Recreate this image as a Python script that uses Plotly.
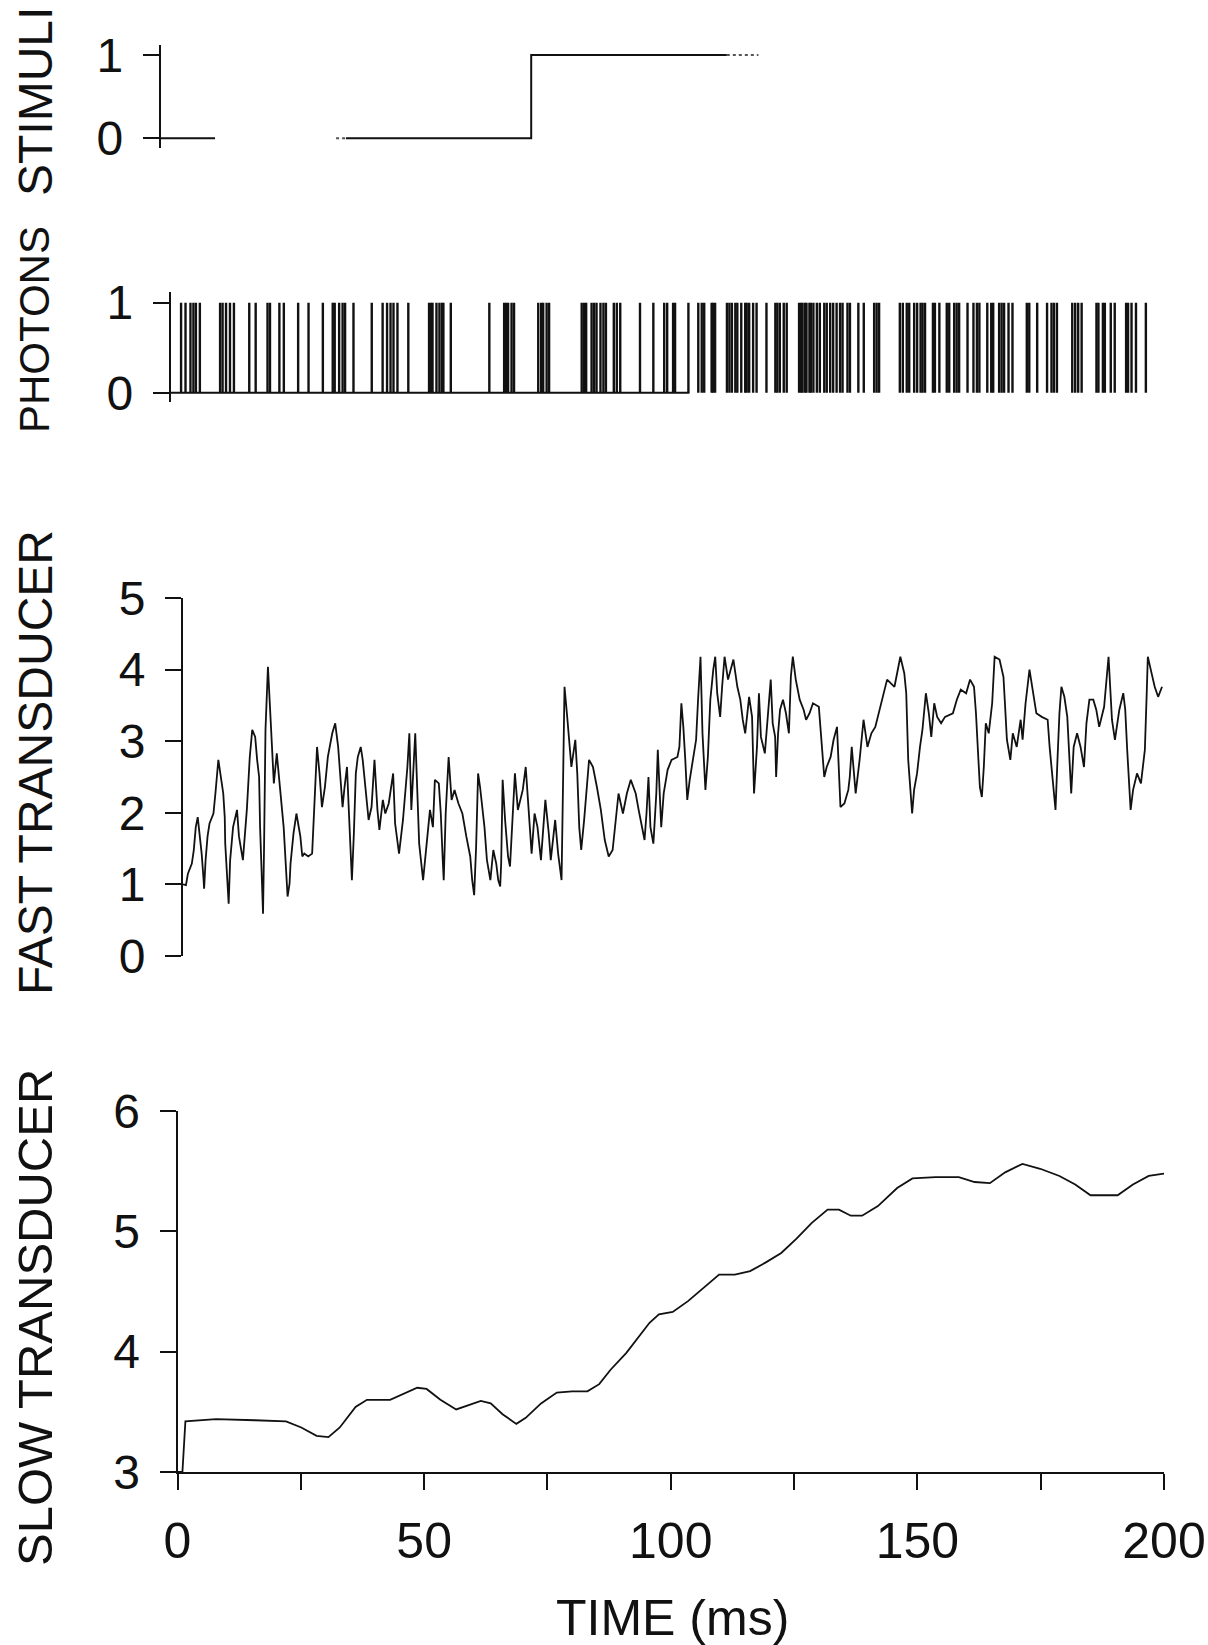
import plotly.graph_objects as go

# ---------------- data ----------------
time_ticks = [0, 25, 50, 75, 100, 125, 150, 175, 200]
time_labels = ["0", "", "50", "", "100", "", "150", "", "200"]
time_title = "TIME (ms)"

# stimulus: 0 until step at ~75 ms, then 1 (gaps are scan dropouts)
stim_t = [0, 11, None, 37.5, 75, 75, 114.6]
stim_v = [0, 0, None, 0, 0, 1, 1]
stim_tail_t = [114.6, 121]
stim_tail_v = [1, 1]
stim_pre_t = [35.5, 37.5]
stim_pre_v = [0, 0]

photon_times = [2.1, 3.0, 4.0, 4.6, 5.1, 5.9, 10.0, 10.5, 11.2, 12.0, 12.8, 15.9, 17.2, 19.6, 20.1,
                22.0, 22.9, 25.8, 27.9, 30.8, 32.8, 33.2, 34.1, 34.8, 35.3, 37.0, 40.7, 42.9, 43.8,
                44.5, 45.1, 45.9, 48.1, 52.3, 52.7, 53.0, 53.8, 54.4, 54.9, 55.2, 56.7, 64.5, 67.5,
                67.9, 68.3, 69.0, 69.5, 74.4, 75.0, 75.4, 76.1, 76.6, 83.2, 83.7, 84.1, 85.2, 85.7,
                86.2, 87.0, 87.6, 88.1, 89.7, 90.3, 91.0, 95.0, 97.7, 99.9, 100.5, 101.7, 102.1,
                104.8, 106.8, 107.5, 108.0, 109.5, 109.8, 110.2, 112.6, 113.1, 113.6, 114.3, 114.7,
                115.5, 116.3, 116.6, 117.1, 117.9, 118.6, 120.6, 122.4, 122.8, 123.3, 124.1, 124.7,
                127.2, 127.6, 127.9, 128.4, 128.7, 129.3, 129.6, 130.1, 130.8, 131.4, 132.3, 132.8,
                133.5, 134.1, 134.8, 135.5, 136.0, 137.0, 137.5, 139.2, 140.3, 142.4, 142.9, 143.4,
                147.6, 148.2, 149.0, 149.5, 150.5, 151.1, 151.8, 152.2, 152.7, 154.3, 154.7, 155.6,
                157.1, 157.6, 158.6, 159.1, 159.6, 161.3, 162.5, 163.2, 163.7, 165.3, 166.1, 166.5,
                167.7, 168.2, 168.7, 169.6, 170.4, 173.3, 173.8, 175.4, 177.4, 178.3, 178.8, 179.4,
                182.5, 183.1, 183.7, 184.4, 187.4, 187.8, 188.7, 189.1, 190.3, 191.1, 193.4, 193.8,
                194.5, 195.4, 197.4]
photon_baseline_t = [0, 105]
photon_baseline_v = [0, 0]

fast_t = [0, 0.6, 1.0, 1.8, 2.2, 2.6, 3.0, 3.4, 3.8, 4.2, 4.3, 4.6, 5.0, 5.4, 6.2, 6.6, 7.2, 7.6, 8.2,
          8.5, 8.6, 9.3, 9.6, 10.2, 11.0, 11.4, 12.2, 13.0, 13.6, 14.1, 14.7, 15.1, 15.5, 15.7, 16.3,
          16.5, 16.8, 17.3, 17.7, 18.0, 18.3, 18.5, 19.1, 19.5, 19.9, 20.3, 20.5, 21.3, 21.7, 21.9,
          22.5, 23.1, 23.5, 23.9, 24.3, 24.7, 25.5, 26.3, 26.9, 27.3, 27.8, 28.3, 28.9, 29.5, 30.4,
          31.0, 31.6, 32.1, 32.5, 32.9, 33.4, 33.8, 34.4, 34.8, 35.2, 35.6, 36.2, 36.6, 37.2, 37.8,
          38.4, 39.0, 39.6, 40.0, 40.7, 41.2, 41.9, 42.8, 43.2, 44.0, 44.8, 45.7, 46.1, 46.5, 47.3,
          47.7, 48.1, 48.9, 49.5, 50.3, 50.9, 51.3, 52.1, 52.5, 52.9, 53.1, 53.5, 54.1, 54.7, 55.3,
          56.1, 56.9, 57.7, 58.5, 58.9, 59.3, 59.7, 60.1, 60.5, 61.4, 61.9, 62.6, 63.2, 63.8, 64.2,
          64.6, 64.8, 65.1, 65.6, 66.2, 66.6, 67.6, 68.2, 69.2, 69.8, 70.5, 71.0, 71.6, 72.2, 72.9,
          73.8, 74.5, 74.9, 75.8, 76.4, 77.1, 77.3, 77.7, 78.3, 78.7, 79.1, 79.5, 79.9, 80.3, 80.7,
          81.1, 81.7, 82.7, 83.5, 84.3, 85.1, 85.9, 86.7, 87.5, 88.3, 88.7, 89.6, 90.4, 91.2, 92.2,
          92.8, 93.4, 94.0, 94.4, 94.8, 95.2, 95.8, 96.4, 96.7, 97.4, 97.9, 98.7, 99.5, 100.7,
          101.1, 101.5, 101.9, 102.3, 102.7, 103.2, 103.9, 104.5, 104.9, 105.4, 105.8, 106.4,
          106.9, 107.4, 108.0, 108.4, 108.8, 109.4, 109.8, 110.3, 111.0, 112.1, 112.9, 113.5,
          114.0, 114.5, 115.3, 115.9, 116.3, 116.9, 117.3, 117.7, 118.5, 119.3, 119.7, 120.1,
          120.6, 120.8, 121.2, 121.6, 122.2, 122.8, 123.4, 123.8, 124.2, 124.8, 125.6, 126.4,
          126.9, 127.6, 128.3, 129.5, 129.9, 130.6, 131.1, 131.9, 132.5, 133.2, 133.9, 134.7,
          135.5, 135.8, 136.2, 137.0, 137.8, 138.6, 139.4, 140.2, 141.0, 142.2, 143.4, 144.9,
          146.1, 146.9, 147.3, 147.7, 148.1, 148.5, 148.9, 149.5, 150.1, 150.6, 151.3, 151.9,
          152.4, 153.0, 153.6, 154.4, 155.2, 156.8, 157.6, 158.4, 159.5, 160.3, 161.1, 161.5,
          162.0, 162.3, 162.7, 163.1, 163.5, 164.1, 164.8, 165.3, 166.3, 167.1, 167.4, 167.8,
          168.5, 169.0, 169.8, 170.6, 171.0, 171.6, 172.4, 173.0, 173.8, 174.9, 176.1, 176.5,
          176.9, 177.3, 177.7, 178.1, 178.5, 178.9, 179.5, 180.1, 180.5, 180.9, 181.4, 182.1,
          182.8, 183.5, 184.0, 184.6, 185.4, 186.0, 186.6, 187.6, 188.5, 189.2, 189.8, 190.7,
          191.5, 191.9, 192.3, 192.7, 193.0, 193.5, 194.3, 195.1, 195.9, 196.3, 196.5, 197.1,
          197.9, 198.6, 199.4]
fast_v = [1.0, 0.99, 1.15, 1.29, 1.48, 1.80, 1.94, 1.71, 1.43, 1.06, 0.94, 1.34, 1.67, 1.85, 1.99,
          2.27, 2.74, 2.55, 2.27, 1.94, 1.57, 0.73, 1.34, 1.80, 2.04, 1.67, 1.34, 2.04, 2.78, 3.16,
          3.06, 2.74, 2.50, 1.80, 0.59, 1.48, 3.16, 4.04, 3.44, 3.06, 2.74, 2.41, 2.83, 2.55, 2.27,
          1.99, 1.80, 0.83, 1.01, 1.29, 1.71, 1.99, 1.85, 1.67, 1.39, 1.43, 1.39, 1.43, 2.32, 2.92,
          2.55, 2.08, 2.36, 2.78, 3.11, 3.25, 2.92, 2.50, 2.08, 2.36, 2.64, 1.99, 1.06, 1.71, 2.55,
          2.78, 2.92, 2.74, 2.27, 1.90, 2.08, 2.74, 2.04, 1.76, 2.18, 1.99, 2.13, 2.55, 1.85, 1.43,
          1.90, 2.64, 3.11, 2.04, 3.11, 2.27, 1.57, 1.06, 1.53, 2.04, 1.80, 2.46, 2.41, 1.99, 1.34,
          1.06, 1.99, 2.78, 2.18, 2.32, 2.13, 1.99, 1.67, 1.39, 1.06, 0.85, 1.53, 2.55, 2.36, 1.80,
          1.34, 1.06, 1.48, 1.29, 1.06, 0.97, 1.29, 2.46, 1.90, 1.39, 1.25, 2.55, 2.04, 2.32, 2.64,
          1.85, 1.43, 1.99, 1.80, 1.34, 2.18, 1.71, 1.34, 1.90, 1.43, 1.06, 2.22, 3.76, 3.30, 2.92,
          2.64, 2.83, 3.02, 2.55, 1.80, 1.48, 1.90, 2.74, 2.64, 2.36, 2.04, 1.62, 1.39, 1.48, 1.99,
          2.27, 1.99, 2.27, 2.46, 2.27, 2.04, 1.80, 1.62, 1.99, 2.50, 1.80, 1.57, 2.27, 2.88, 1.80,
          2.27, 2.60, 2.74, 2.78, 2.92, 3.53, 3.20, 2.74, 2.18, 2.46, 2.78, 3.02, 3.58, 4.18, 3.11,
          2.32, 2.78, 3.58, 4.00, 4.18, 3.67, 3.34, 3.76, 4.18, 3.86, 4.14, 3.76, 3.58, 3.30, 3.11,
          3.62, 3.34, 2.27, 2.92, 3.67, 3.06, 2.83, 3.58, 3.86, 3.25, 3.06, 2.50, 3.11, 3.44, 3.58,
          3.39, 3.11, 3.90, 4.18, 3.86, 3.58, 3.44, 3.30, 3.39, 3.53, 3.48, 3.11, 2.50, 2.64, 2.78,
          3.02, 3.20, 2.08, 2.13, 2.32, 2.50, 2.92, 2.27, 2.74, 3.30, 2.92, 3.11, 3.20, 3.53, 3.86,
          3.76, 4.18, 3.95, 3.67, 2.74, 2.36, 1.99, 2.32, 2.55, 2.92, 3.16, 3.67, 3.39, 3.06, 3.53,
          3.34, 3.25, 3.34, 3.39, 3.58, 3.72, 3.67, 3.86, 3.76, 3.39, 2.74, 2.36, 2.22, 2.64, 3.25,
          3.11, 3.53, 4.18, 4.14, 3.90, 3.53, 3.02, 2.74, 3.11, 2.92, 3.30, 3.02, 3.53, 4.00, 3.76,
          3.39, 3.34, 3.30, 2.92, 2.64, 2.32, 2.04, 2.74, 3.39, 3.76, 3.62, 3.34, 2.74, 2.27, 2.92,
          3.11, 2.92, 2.64, 3.25, 3.58, 3.58, 3.44, 3.20, 3.48, 4.18, 3.30, 3.02, 3.44, 3.67, 3.44,
          2.88, 2.32, 2.04, 2.32, 2.55, 2.41, 2.88, 3.72, 4.18, 4.00, 3.76, 3.62, 3.76]

slow_t = [0, 1.0, 1.6, 7.8, 15.7, 22.0, 25.1, 28.2, 30.6, 32.9, 36.1, 38.4, 43.1, 46.3, 48.6, 50.5,
          53.3, 56.5, 58.8, 61.5, 63.5, 65.9, 68.7, 70.6, 73.7, 76.9, 80.0, 83.1, 85.5, 87.8, 91.0,
          93.3, 95.7, 97.6, 100.4, 103.5, 106.7, 109.8, 113.0, 116.1, 119.2, 122.4, 125.5, 128.6,
          131.8, 134.1, 136.5, 138.8, 142.0, 145.9, 149.0, 153.7, 158.4, 161.6, 164.7, 167.8,
          171.3, 174.9, 178.8, 182.0, 185.1, 190.6, 193.7, 196.9, 200.0]
slow_v = [3.0, 3.0, 3.42, 3.44, 3.43, 3.42, 3.37, 3.30, 3.29, 3.37, 3.54, 3.60, 3.60, 3.66, 3.70,
          3.69, 3.60, 3.52, 3.55, 3.59, 3.57, 3.48, 3.40, 3.45, 3.57, 3.66, 3.67, 3.67, 3.73, 3.85,
          3.99, 4.11, 4.24, 4.31, 4.33, 4.42, 4.53, 4.64, 4.64, 4.67, 4.74, 4.82, 4.94, 5.07, 5.18,
          5.18, 5.13, 5.13, 5.21, 5.36, 5.44, 5.45, 5.45, 5.41, 5.40, 5.49, 5.56, 5.52, 5.46, 5.39,
          5.30, 5.30, 5.39, 5.46, 5.48]

panel_titles = ["STIMULI", "PHOTONS", "FAST TRANSDUCER", "SLOW TRANSDUCER"]

# ---------------- layout helpers (pixel positions of the scanned panels) ----------------
W, H = 1208, 1645
def fx(p):
    return p / W
def fy(p):
    return 1 - p / H

FONT = "Liberation Sans, Arial, Helvetica, sans-serif"
INK = "#111111"

fig = go.Figure()

# stimuli
fig.add_trace(go.Scatter(x=stim_t, y=stim_v, mode="lines", line=dict(color=INK, width=2),
                         xaxis="x", yaxis="y", connectgaps=False, showlegend=False))
fig.add_trace(go.Scatter(x=stim_tail_t, y=stim_tail_v, mode="lines",
                         line=dict(color="#555555", width=2, dash="dot"),
                         xaxis="x", yaxis="y", showlegend=False))
fig.add_trace(go.Scatter(x=stim_pre_t, y=stim_pre_v, mode="lines",
                         line=dict(color="#555555", width=2, dash="dot"),
                         xaxis="x", yaxis="y", showlegend=False))

# photons
px_, py_ = [], []
for t in photon_times:
    px_ += [t, t, None]
    py_ += [0, 1, None]
fig.add_trace(go.Scatter(x=px_, y=py_, mode="lines", line=dict(color=INK, width=2.4),
                         xaxis="x2", yaxis="y2", showlegend=False))
fig.add_trace(go.Scatter(x=photon_baseline_t, y=photon_baseline_v, mode="lines",
                         line=dict(color=INK, width=2), xaxis="x2", yaxis="y2", showlegend=False))

# fast transducer
fig.add_trace(go.Scatter(x=fast_t, y=fast_v, mode="lines", line=dict(color=INK, width=1.8),
                         xaxis="x3", yaxis="y3", showlegend=False))

# slow transducer
fig.add_trace(go.Scatter(x=slow_t, y=slow_v, mode="lines", line=dict(color=INK, width=1.8),
                         xaxis="x4", yaxis="y4", showlegend=False))

hidden_x = dict(visible=False, range=[0, 200], fixedrange=True, automargin=False)
yax_common = dict(showline=True, linecolor=INK, linewidth=2, ticks="outside", ticklen=16,
                  tickwidth=2, tickcolor=INK, showgrid=False, zeroline=False, automargin=False,
                  tickfont=dict(family=FONT, size=48, color=INK), ticklabelstandoff=10)

fig.update_layout(
    template="none",
    width=W, height=H, autosize=False,
    margin=dict(l=0, r=0, t=0, b=0, pad=0),
    paper_bgcolor="white", plot_bgcolor="white",
    showlegend=False,
    xaxis=dict(hidden_x, domain=[fx(160.7), fx(1148.7)], anchor="y"),
    xaxis2=dict(hidden_x, domain=[fx(170.7), fx(1158.7)], anchor="y2"),
    xaxis3=dict(hidden_x, domain=[fx(183), fx(1165)], anchor="y3"),
    xaxis4=dict(domain=[fx(177.5), fx(1164)], anchor="y4", range=[0, 200], automargin=False,
                showline=True, linecolor=INK, linewidth=2, ticks="outside", ticklen=16,
                tickwidth=2, tickcolor=INK, showgrid=False, zeroline=False,
                tickvals=time_ticks, ticktext=time_labels, ticklabelstandoff=8,
                tickfont=dict(family=FONT, size=50, color=INK)),
    yaxis=dict(yax_common, domain=[fy(148), fy(45)], range=[-0.116, 1.12], anchor="x",
               tickvals=[0, 1]),
    yaxis2=dict(yax_common, domain=[fy(401.7), fy(291.7)], range=[-0.1, 1.122], anchor="x2",
                tickvals=[0, 1]),
    yaxis3=dict(yax_common, domain=[fy(956), fy(598)], range=[0, 5], anchor="x3",
                tickvals=[0, 1, 2, 3, 4, 5]),
    yaxis4=dict(yax_common, domain=[fy(1472), fy(1111)], range=[3, 6], anchor="x4",
                tickvals=[3, 4, 5, 6]),
)

title_centers = [102, 330, 763, 1318]
title_sizes = [48, 42, 48, 49]
for txt, cy, fs in zip(panel_titles, title_centers, title_sizes):
    fig.add_annotation(text=txt, x=fx(35), y=fy(cy), xref="paper", yref="paper",
                       textangle=-90, showarrow=False, xanchor="center", yanchor="middle",
                       font=dict(family=FONT, size=fs, color=INK))

fig.add_annotation(text=time_title, x=fx(672), y=fy(1618), xref="paper", yref="paper",
                   showarrow=False, xanchor="center", yanchor="middle",
                   font=dict(family=FONT, size=50, color=INK))

fig.write_html(
    "out.html",
    config={"displayModeBar": False, "staticPlot": True},
    post_script="document.body.style.margin='0';document.body.style.padding='0';"
                "document.documentElement.style.overflow='hidden';"
                "document.body.style.overflow='hidden';",
)
